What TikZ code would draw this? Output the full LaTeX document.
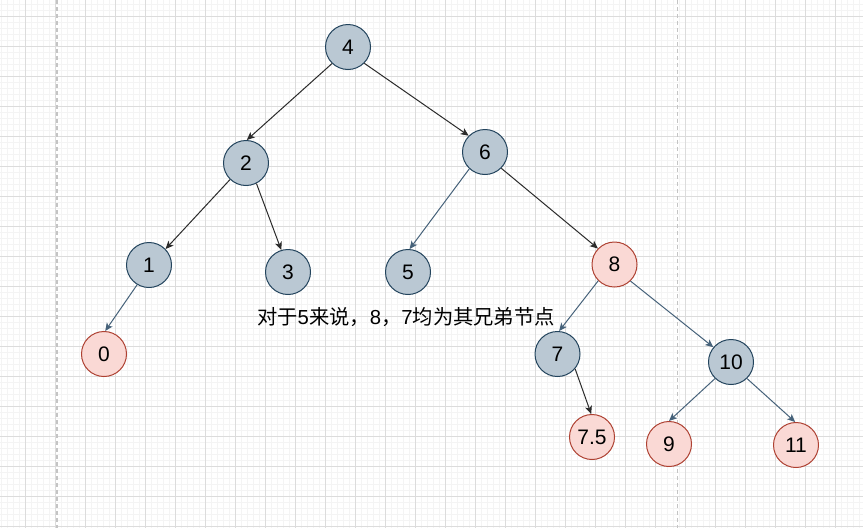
\documentclass[tikz,border=0pt]{standalone}
\usepackage{fontspec}
\setmainfont{Liberation Sans}
\newfontfamily\cjk{Noto Sans CJK SC}
\usetikzlibrary{arrows.meta}
\definecolor{gfill}{HTML}{BAC8D3}
\definecolor{gdraw}{HTML}{23445D}
\definecolor{rfill}{HTML}{FAD9D5}
\definecolor{rdraw}{HTML}{AE4132}
\definecolor{edk}{HTML}{2B2B2B}
\definecolor{ebl}{HTML}{46627A}
\definecolor{gmaj}{HTML}{DCDCDC}
\definecolor{gmin}{HTML}{F4F4F4}
\definecolor{pgbrk}{HTML}{C4C4C4}
\begin{document}
\begin{tikzpicture}[x=1pt,y=-1pt,
  gnode/.style={circle, draw=gdraw, fill=gfill, line width=1pt, minimum size=45pt, inner sep=0pt, font=\fontsize{21}{24}\selectfont},
  rnode/.style={gnode, draw=rdraw, fill=rfill},
  dk/.style={draw=edk, line width=1pt, -{Stealth[length=8pt,width=7pt,inset=2pt]}},
  bl/.style={dk, draw=ebl},
  minorgrid/.style={draw=gmin, line width=1pt},
  majorgrid/.style={draw=gmaj, line width=1pt},
  pagebreak/.style={draw=pgbrk, line width=1.2pt, dash pattern=on 4pt off 3pt},
  caption/.style={inner sep=0pt, font=\fontsize{20.3}{24}\selectfont}
]
\useasboundingbox (0,0) rectangle (863,528);
\fill[white] (0,0) rectangle (863,528);
\foreach \x in {1,7,...,862} \draw[minorgrid] (\x,0) -- (\x,528);
\foreach \y in {4,10,...,527} \draw[minorgrid] (0,\y) -- (863,\y);
\foreach \x in {25,55,...,862} \draw[majorgrid] (\x,0) -- (\x,528);
\foreach \y in {16,46,...,527} \draw[majorgrid] (0,\y) -- (863,\y);
\draw[pagebreak] (57,0) -- (57,528);
\draw[pagebreak] (677.5,0) -- (677.5,528);

\node[gnode] (n4) at (348,47) {4};
\node[gnode] (n2) at (246,163) {2};
\node[gnode] (n6) at (485,152) {6};
\node[gnode] (n1) at (149,265) {1};
\node[gnode] (n3) at (288,272) {3};
\node[gnode] (n5) at (408,272) {5};
\node[rnode] (n8) at (614.5,264.5) {8};
\node[rnode] (n0) at (104,354) {0};
\node[gnode] (n7) at (557.5,354) {7};
\node[rnode] (n75) at (592,437) {7.5};
\node[gnode] (n10) at (731,362) {10};
\node[rnode] (n9) at (669,444) {9};
\node[rnode] (n11) at (796,445) {11};

\node[caption] (txt) at (406,317) {{\cjk 对于}5{\cjk 来说，}8{\cjk ，}7{\cjk 均为其兄弟节点}};

\draw[dk] (n4.226.7) -- (n2.88);
\draw[dk] (n4.315) -- (n6.135.7);
\draw[dk] (n2.226) -- (n1.44.5);
\draw[dk] (n2.297.5) -- (n3.107.6);
\draw[bl] (n1.239) -- (n0.87);
\draw[bl] (n6.227) -- (n5.86.7);
\draw[dk] (n6.315) -- (n8.136);
\draw[bl] (n8.225.7) -- (n7.86);
\draw[bl] (n8.314) -- (n10.140);
\draw[dk] (n7.320.3) -- (n75.92.5);
\draw[bl] (n10.226) -- (n9.90);
\draw[bl] (n10.314) -- (n11.92);
\end{tikzpicture}
\end{document}
